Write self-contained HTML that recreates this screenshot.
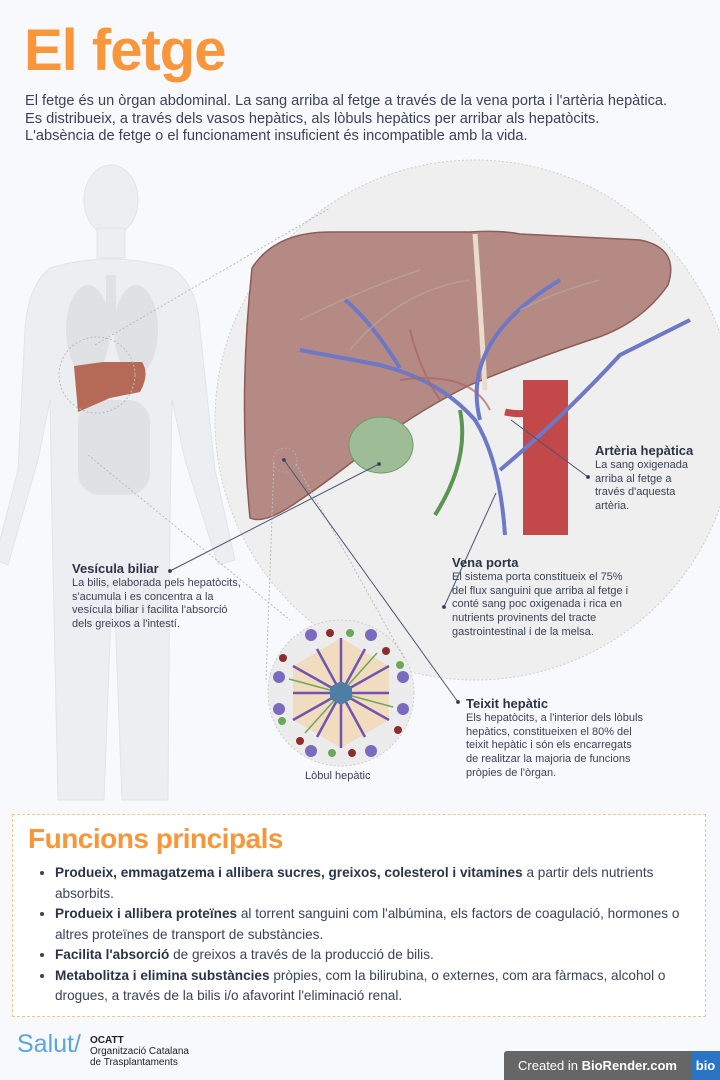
<!DOCTYPE html>
<html><head><meta charset="utf-8"><style>
body{margin:0;width:720px;height:1080px;background:#f8f9fc;font-family:"Liberation Sans",sans-serif;position:relative;overflow:hidden;color:#2b3447}
.abs{position:absolute}
h1{position:absolute;left:24px;top:17px;margin:0;font-size:58px;color:#f7963b;font-weight:bold;letter-spacing:-1px}
.intro{left:25px;top:93px;font-size:14.6px;line-height:17.6px;color:#3a4256;width:700px;white-space:nowrap}
.lbl{font-size:11px;line-height:13.7px;color:#3a4256}
.lbl b{font-size:13px;display:block;color:#2b3447;line-height:16px}
.box{left:12px;top:814px;width:694px;height:203px;background:#fff;border:1px dashed #f7c38f;box-sizing:border-box}
.box h2{margin:0;position:absolute;left:15px;top:8px;font-size:28px;color:#f7963b;letter-spacing:-0.5px}
.box ul{position:absolute;left:28px;top:48px;margin:0;padding:0 0 0 14px;font-size:13.6px;line-height:20.5px;width:640px;color:#3a4256}
.box li b{color:#2b3447}
</style></head><body>
<h1>El fetge</h1>
<div class="abs intro">El fetge és un òrgan abdominal. La sang arriba al fetge a través de la vena porta i l'artèria hepàtica.<br>Es distribueix, a través dels vasos hepàtics, als lòbuls hepàtics per arribar als hepatòcits.<br>L'absència de fetge o el funcionament insuficient és incompatible amb la vida.</div>
<svg class="abs" style="left:0;top:0" width="720" height="1080">
<!-- body silhouette -->
<g fill="#eceef1" stroke="#e2e4e8">
<ellipse cx="111" cy="200" rx="27" ry="35"/>
<rect x="97" y="228" width="28" height="30"/>
<path d="M50 268 Q110 250 172 268 Q198 285 200 330 L215 470 L235 560 L218 565 L185 460 L172 400 L170 520 L168 800 L122 800 L113 560 L104 800 L58 800 L52 520 L50 400 L38 460 L8 565 L-5 560 L18 470 L25 330 Q28 285 50 268 Z"/>
</g>
<g fill="#dfe1e5"><ellipse cx="88" cy="330" rx="22" ry="45"/><ellipse cx="136" cy="330" rx="22" ry="45"/><rect x="78" y="400" width="72" height="95" rx="22"/><rect x="106" y="275" width="10" height="60"/></g>
<path d="M74 366 L103 362 L142 362 Q150 374 140 392 L110 398 L78 412 Z" fill="#b56a57"/>
<circle cx="97" cy="375" r="38" fill="none" stroke="#bbb" stroke-dasharray="2 2"/>
<!-- big circle -->
<circle cx="475" cy="420" r="260" fill="#efeff0" stroke="#cfcfcf" stroke-dasharray="2 2"/>
<line x1="95" y1="345" x2="330" y2="208" stroke="#bbb" stroke-dasharray="2 2"/>
<line x1="88" y1="455" x2="290" y2="620" stroke="#bbb" stroke-dasharray="2 2"/>
<!-- aorta -->
<rect x="523" y="380" width="45" height="155" fill="#c2484a"/>
<!-- liver -->
<path d="M252 268 Q275 232 330 232 L470 232 Q500 230 520 234 L640 240 Q680 248 668 285 Q640 325 590 340 Q530 360 470 385 Q420 410 380 440 Q330 480 300 500 Q265 525 250 518 Q238 400 252 268 Z" fill="#b58a85" stroke="#8c5c55" stroke-width="1.5"/>
<path d="M475 234 Q480 300 485 390" stroke="#e9dccb" stroke-width="5" fill="none"/>
<ellipse cx="381" cy="445" rx="32" ry="28" fill="#9ebd97" stroke="#6f9a68"/>
<path d="M460 410 Q470 460 435 515" stroke="#5a9552" stroke-width="4" fill="none"/>
<g stroke="#6d78c6" stroke-width="4" fill="none">
<path d="M505 535 Q500 460 475 420 Q440 380 380 365 L300 350"/>
<path d="M480 420 Q460 340 560 280"/><path d="M400 368 Q370 320 345 300"/>
<path d="M500 470 Q560 420 620 355 Q660 335 690 320"/>
</g>
<g stroke="#a96565" stroke-width="2" fill="none" opacity=".7"><path d="M440 400 Q420 370 410 330"/><path d="M490 410 Q470 370 400 380"/></g>
<path d="M505 412 Q540 420 560 390" stroke="#c2484a" stroke-width="7" fill="none"/>
<g stroke="#b7a79c" stroke-width="1.5" fill="none" opacity=".7"><path d="M300 320 Q360 290 420 270"/><path d="M350 350 Q400 290 470 280"/><path d="M520 310 Q560 290 600 280"/></g>
<circle cx="285" cy="460" r="12" fill="none" stroke="#aaa" stroke-dasharray="2 2"/>
<!-- lobule -->
<circle cx="341" cy="693" r="73" fill="#ececed" stroke="#ccc" stroke-dasharray="2 2"/>
<line x1="274" y1="462" x2="266" y2="680" stroke="#bbb" stroke-dasharray="2 2"/>
<line x1="296" y1="464" x2="405" y2="660" stroke="#bbb" stroke-dasharray="2 2"/>
<g transform="translate(341,693)">
<polygon points="0,-55 48,-27 48,27 0,55 -48,27 -48,-27" fill="#f2dcc0"/>
<g stroke="#7055b0" stroke-width="2.5"><line x2="0" y2="-55"/><line x2="48" y2="-27"/><line x2="48" y2="27"/><line x2="0" y2="55"/><line x2="-48" y2="27"/><line x2="-48" y2="-27"/><line x2="24" y2="-44"/><line x2="48" y2="0"/><line x2="-24" y2="44"/><line x2="-48" y2="0"/><line x2="24" y2="44"/><line x2="-24" y2="-44"/></g>
<g stroke="#6aa85a" stroke-width="1.5"><line x2="36" y2="-40"/><line x2="-36" y2="40"/><line x2="52" y2="14"/><line x2="-52" y2="-14"/></g>
<g fill="#7b6bbf"><circle cx="-30" cy="-58" r="6"/><circle cx="30" cy="-58" r="6"/><circle cx="62" cy="-16" r="6"/><circle cx="62" cy="16" r="6"/><circle cx="30" cy="58" r="6"/><circle cx="-30" cy="58" r="6"/><circle cx="-62" cy="16" r="6"/><circle cx="-62" cy="-16" r="6"/></g>
<g fill="#8c2d2d"><circle cx="-11" cy="-60" r="4"/><circle cx="45" cy="-42" r="4"/><circle cx="57" cy="37" r="4"/><circle cx="-41" cy="48" r="4"/><circle cx="-58" cy="-35" r="4"/><circle cx="11" cy="60" r="4"/></g>
<g fill="#6aa85a"><circle cx="9" cy="-60" r="4"/><circle cx="59" cy="-28" r="4"/><circle cx="-59" cy="28" r="4"/><circle cx="-9" cy="60" r="4"/></g>
<polygon points="0,-12 11,-6 11,6 0,12 -11,6 -11,-6" fill="#4f7ea5"/>
</g>
<!-- leaders -->
<g stroke="#4a5570" stroke-width="1" fill="#2b3447">
<line x1="379" y1="464" x2="170" y2="571"/><circle cx="170" cy="571" r="1.5"/><circle cx="379" cy="464" r="1.5"/>
<line x1="511" y1="420" x2="588" y2="477"/><circle cx="588" cy="477" r="1.5"/>
<line x1="496" y1="493" x2="444" y2="607"/><circle cx="444" cy="607" r="1.5"/>
<line x1="284" y1="460" x2="458" y2="702"/><circle cx="458" cy="702" r="1.5"/><circle cx="284" cy="460" r="1.5"/>
</g>
</svg>
<div class="abs lbl" style="left:595px;top:443px"><b>Artèria hepàtica</b>La sang oxigenada<br>arriba al fetge a<br>través d'aquesta<br>artèria.</div>
<div class="abs lbl" style="left:452px;top:555px"><b>Vena porta</b>El sistema porta constitueix el 75%<br>del flux sanguini que arriba al fetge i<br>conté sang poc oxigenada i rica en<br>nutrients provinents del tracte<br>gastrointestinal i de la melsa.</div>
<div class="abs lbl" style="left:72px;top:561px"><b>Vesícula biliar</b>La bilis, elaborada pels hepatòcits,<br>s'acumula i es concentra a la<br>vesícula biliar i facilita l'absorció<br>dels greixos a l'intestí.</div>
<div class="abs lbl" style="left:466px;top:696px"><b>Teixit hepàtic</b>Els hepatòcits, a l'interior dels lòbuls<br>hepàtics, constitueixen el 80% del<br>teixit hepàtic i són els encarregats<br>de realitzar la majoria de funcions<br>pròpies de l'òrgan.</div>
<div class="abs" style="left:305px;top:770px;font-size:11px;color:#3a4256">Lòbul hepàtic</div>
<div class="abs box"><h2>Funcions principals</h2><ul>
<li><b>Produeix, emmagatzema i allibera sucres, greixos, colesterol i vitamines</b> a partir dels nutrients absorbits.</li>
<li><b>Produeix i allibera proteïnes</b> al torrent sanguini com l'albúmina, els factors de coagulació, hormones o altres proteïnes de transport de substàncies.</li>
<li><b>Facilita l'absorció</b> de greixos a través de la producció de bilis.</li>
<li><b>Metabolitza i elimina substàncies</b> pròpies, com la bilirubina, o externes, com ara fàrmacs, alcohol o drogues, a través de la bilis i/o afavorint l'eliminació renal.</li></ul></div>
<div class="abs" style="left:17px;top:1030px;font-size:25px;color:#5aa5e0">Salut/</div>
<div class="abs" style="left:90px;top:1035px;font-size:10px;line-height:11px;color:#222"><b>OCATT</b><br>Organització Catalana<br>de Trasplantaments</div>
<div class="abs" style="left:504px;top:1051px;width:187px;height:29px;background:#666;color:#fff;font-size:13px;line-height:29px;text-align:center;border-radius:3px 0 0 0">Created in <b>BioRender.com</b></div>
<div class="abs" style="left:691px;top:1051px;width:29px;height:29px;background:#2a74c6;color:#fff;font-size:13px;font-weight:bold;line-height:29px;text-align:center">bio</div>
</body></html>
